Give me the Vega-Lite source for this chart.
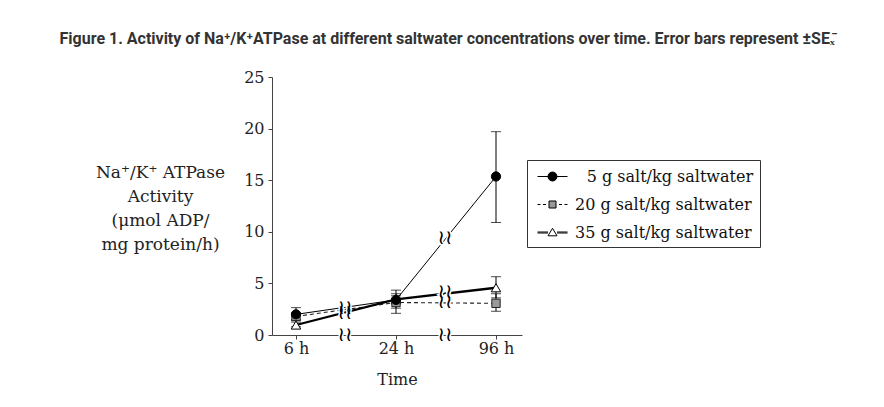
{
  "$schema": "https://vega.github.io/schema/vega-lite/v6.json",
  "width": 250,
  "height": 258,
  "autosize": {"type": "none"},
  "padding": {"left": 272, "top": 77, "right": 362, "bottom": 72},
  "background": "white",
  "config": {"view": {"stroke": null}, "font": "DejaVu Serif"},
  "title": {
    "text": "Figure 1. Activity of Na⁺/K⁺ATPase at different saltwater concentrations over time. Error bars represent ±SEₓ̄",
    "font": "Roboto",
    "fontWeight": "bold",
    "fontSize": 16,
    "color": "#333",
    "anchor": "middle",
    "dx": 50,
    "offset": 22
  },
  "datasets": {
    "points": [
      {"series": "35 g salt/kg saltwater", "t": 0, "time": "6 h", "value": 0.97, "lo": 0.8, "hi": 1.25},
      {"series": "35 g salt/kg saltwater", "t": 1, "time": "24 h", "value": 3.45, "lo": 3.0, "hi": 3.8},
      {"series": "35 g salt/kg saltwater", "t": 2, "time": "96 h", "value": 4.58, "lo": 3.6, "hi": 5.65},
      {"series": "20 g salt/kg saltwater", "t": 0, "time": "6 h", "value": 1.8, "lo": 1.5, "hi": 2.1},
      {"series": "20 g salt/kg saltwater", "t": 1, "time": "24 h", "value": 3.15, "lo": 2.1, "hi": 4.0},
      {"series": "20 g salt/kg saltwater", "t": 2, "time": "96 h", "value": 3.07, "lo": 2.3, "hi": 4.0},
      {"series": "5 g salt/kg saltwater", "t": 0, "time": "6 h", "value": 2.0, "lo": 1.4, "hi": 2.65},
      {"series": "5 g salt/kg saltwater", "t": 1, "time": "24 h", "value": 3.4, "lo": 2.6, "hi": 4.35},
      {"series": "5 g salt/kg saltwater", "t": 2, "time": "96 h", "value": 15.36, "lo": 10.9, "hi": 19.7}
    ],
    "breaks": [
      {"t": 0.49, "value": 2.6},
      {"t": 0.49, "value": 2.15},
      {"t": 1.49, "value": 9.36},
      {"t": 1.49, "value": 4.15},
      {"t": 1.49, "value": 3.2},
      {"t": 0.49, "value": 0},
      {"t": 1.49, "value": 0}
    ]
  },
  "layer": [
    {
      "data": {"name": "points"},
      "transform": [{"filter": "datum.series == '5 g salt/kg saltwater'"}],
      "mark": {"type": "line", "color": "black", "strokeWidth": 1},
      "encoding": {
        "x": {
          "field": "t",
          "type": "quantitative",
          "scale": {"domain": [-0.24, 2.26], "nice": false, "zero": false},
          "axis": {
            "values": [0, 1, 2],
            "labelExpr": "datum.value == 0 ? '6 h' : datum.value == 1 ? '24 h' : '96 h'",
            "title": "Time",
            "titleFont": "DejaVu Serif",
            "titleFontSize": 16,
            "titleFontWeight": "normal",
            "titleColor": "#222",
            "titlePadding": 15,
            "labelFont": "DejaVu Serif",
            "labelFontSize": 16,
            "labelColor": "#222",
            "labelPadding": 1,
            "labelFlush": false,
            "tickSize": 4,
            "tickColor": "#444",
            "domainColor": "#444",
            "grid": false,
            "encode": {"ticks": {"update": {"y": {"value": -5}}}}
          }
        },
        "y": {
          "field": "value",
          "type": "quantitative",
          "scale": {"domain": [0, 25], "nice": false},
          "axis": {
            "values": [0, 5, 10, 15, 20, 25],
            "title": ["Na⁺/K⁺ ATPase", "Activity", "(μmol ADP/", "mg protein/h)"],
            "titleAngle": 0,
            "titleAlign": "center",
            "titleBaseline": "middle",
            "titleX": -112,
            "titleY": 95,
            "titleFont": "DejaVu Serif",
            "titleFontSize": 17,
            "titleFontWeight": "normal",
            "titleColor": "#222",
            "titleLineHeight": 24,
            "labelFont": "DejaVu Serif",
            "labelFontSize": 16,
            "labelColor": "#222",
            "labelPadding": 4,
            "labelFlush": false,
            "tickSize": 4,
            "tickColor": "#444",
            "domainColor": "#444",
            "grid": false,
            "encode": {"ticks": {"update": {"x": {"value": 5}}}}
          }
        }
      }
    },
    {
      "data": {"name": "points"},
      "transform": [{"filter": "datum.series == '20 g salt/kg saltwater'"}],
      "mark": {"type": "line", "color": "#222", "strokeWidth": 1.1, "strokeDash": [4, 3]},
      "encoding": {
        "x": {"field": "t", "type": "quantitative"},
        "y": {"field": "value", "type": "quantitative"}
      }
    },
    {
      "data": {"name": "points"},
      "transform": [{"filter": "datum.series == '35 g salt/kg saltwater'"}],
      "mark": {"type": "line", "color": "black", "strokeWidth": 2.3},
      "encoding": {
        "x": {"field": "t", "type": "quantitative"},
        "y": {"field": "value", "type": "quantitative"}
      }
    },
    {
      "data": {"name": "points"},
      "mark": {"type": "rule", "color": "black", "strokeWidth": 1},
      "encoding": {
        "x": {"field": "t", "type": "quantitative"},
        "y": {"field": "lo", "type": "quantitative"},
        "y2": {"field": "hi"}
      }
    },
    {
      "data": {"name": "points"},
      "mark": {"type": "tick", "orient": "horizontal", "color": "black", "size": 10, "thickness": 1},
      "encoding": {
        "x": {"field": "t", "type": "quantitative"},
        "y": {"field": "lo", "type": "quantitative"}
      }
    },
    {
      "data": {"name": "points"},
      "mark": {"type": "tick", "orient": "horizontal", "color": "black", "size": 10, "thickness": 1},
      "encoding": {
        "x": {"field": "t", "type": "quantitative"},
        "y": {"field": "hi", "type": "quantitative"}
      }
    },
    {
      "data": {"name": "breaks"},
      "mark": {"type": "text", "text": "≀≀", "font": "DejaVu Sans", "fontSize": 20, "stroke": "white", "strokeWidth": 3, "fill": "white", "baseline": "middle", "align": "center"},
      "encoding": {
        "x": {"field": "t", "type": "quantitative"},
        "y": {"field": "value", "type": "quantitative"}
      }
    },
    {
      "data": {"name": "breaks"},
      "mark": {"type": "text", "text": "≀≀", "font": "DejaVu Sans", "fontSize": 20, "fill": "black", "baseline": "middle", "align": "center"},
      "encoding": {
        "x": {"field": "t", "type": "quantitative"},
        "y": {"field": "value", "type": "quantitative"}
      }
    },
    {
      "data": {"name": "points"},
      "transform": [{"filter": "datum.series == '35 g salt/kg saltwater'"}],
      "mark": {"type": "point", "shape": "triangle-up", "filled": true, "fill": "white", "stroke": "black", "strokeWidth": 1, "size": 90, "opacity": 1},
      "encoding": {
        "x": {"field": "t", "type": "quantitative"},
        "y": {"field": "value", "type": "quantitative"}
      }
    },
    {
      "data": {"name": "points"},
      "transform": [{"filter": "datum.series == '20 g salt/kg saltwater'"}],
      "mark": {"type": "point", "shape": "square", "filled": true, "fill": "#999", "stroke": "#222", "strokeWidth": 1, "size": 70, "opacity": 1},
      "encoding": {
        "x": {"field": "t", "type": "quantitative"},
        "y": {"field": "value", "type": "quantitative"}
      }
    },
    {
      "data": {"name": "points"},
      "transform": [{"filter": "datum.series == '5 g salt/kg saltwater'"}],
      "mark": {"type": "point", "shape": "circle", "filled": true, "fill": "black", "stroke": "black", "strokeWidth": 1, "size": 85, "opacity": 1},
      "encoding": {
        "x": {"field": "t", "type": "quantitative"},
        "y": {"field": "value", "type": "quantitative"}
      }
    },
    {
      "data": {"name": "points"},
      "transform": [{"filter": "datum.t > 5"}],
      "mark": {"type": "point", "filled": true, "stroke": "black", "strokeWidth": 1, "opacity": 1},
      "encoding": {
        "x": {"field": "t", "type": "quantitative"},
        "y": {"field": "value", "type": "quantitative"},
        "shape": {
          "field": "series",
          "type": "nominal",
          "scale": {
            "domain": ["\u28005 g salt/kg saltwater", "20 g salt/kg saltwater", "35 g salt/kg saltwater"],
            "range": [
              "M-0.6,0H2.4M1.35,0A0.45,0.45,0,1,1,0.45,0A0.45,0.45,0,1,1,1.35,0Z",
              "M-0.6,0H-0.3M-0.05,0H0.25M1.55,0H1.85M2.1,0H2.4M0.55,-0.35H1.25V0.35H0.55Z",
              "M-0.6,-0.05H0.45M-0.6,0.05H0.45M1.35,-0.05H2.4M1.35,0.05H2.4M0.9,-0.42L1.35,0.33H0.45Z"
            ]
          },
          "legend": {
            "orient": "none",
            "legendX": 255,
            "legendY": 83,
            "title": null,
            "symbolSize": 400,
            "symbolStrokeWidth": 1,
            "labelFont": "DejaVu Serif",
            "labelFontSize": 16,
            "labelColor": "#111",
            "labelOffset": 21,
            "labelLimit": 300,
            "rowPadding": 9,
            "padding": 6,
            "strokeColor": "#333",
            "fillColor": "white"
          }
        },
        "fill": {
          "field": "series",
          "type": "nominal",
          "scale": {"domain": ["\u28005 g salt/kg saltwater", "20 g salt/kg saltwater", "35 g salt/kg saltwater"], "range": ["black", "#999", "white"]},
          "legend": {
            "orient": "none",
            "legendX": 255,
            "legendY": 83,
            "title": null,
            "symbolSize": 400,
            "symbolStrokeWidth": 1,
            "labelFont": "DejaVu Serif",
            "labelFontSize": 16,
            "labelColor": "#111",
            "labelOffset": 21,
            "labelLimit": 300,
            "rowPadding": 9,
            "padding": 6,
            "strokeColor": "#333",
            "fillColor": "white"
          }
        }
      }
    }
  ]
}
